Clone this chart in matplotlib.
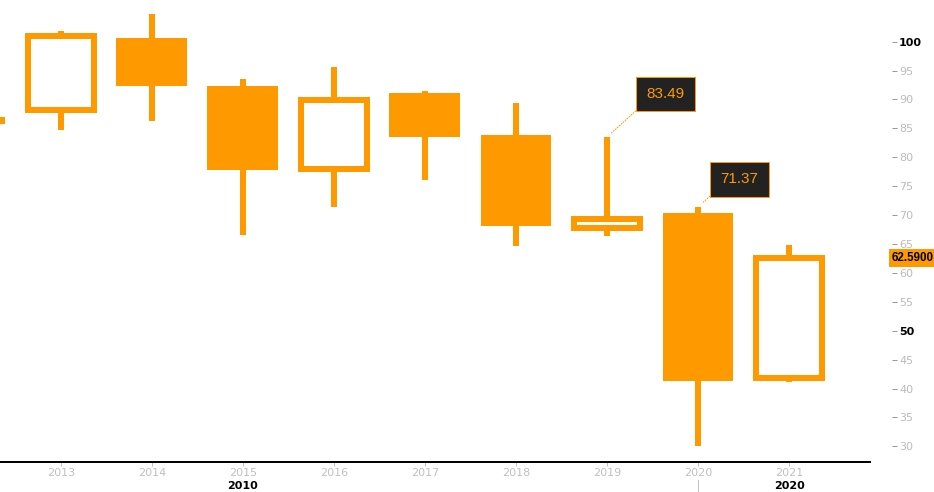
import matplotlib
matplotlib.use("Agg")
import matplotlib.pyplot as plt
import matplotlib.transforms as mtransforms
from matplotlib.lines import Line2D

# ---- data ----
years = [2012, 2013, 2014, 2015, 2016, 2017, 2018, 2019, 2020, 2021]
opens = [87.0, 88.2, 100.7, 92.3, 78.0, 91.1, 83.9, 67.8, 70.4, 41.8]
highs = [87.0, 101.85, 104.8, 93.5, 95.6, 91.5, 89.4, 83.49, 71.37, 64.8]
lows = [85.8, 84.7, 86.2, 66.6, 71.4, 76.1, 64.7, 66.3, 30.0, 41.2]
closes = [85.8, 101.0, 92.3, 77.8, 89.9, 83.5, 68.1, 69.3, 41.3, 62.59]
xtick_years = [2013, 2014, 2015, 2016, 2017, 2018, 2019, 2020, 2021]
yticks = list(range(30, 101, 5))
bold_yticks = [50, 100]
decade_labels = [("2010", 2015), ("2020", 2021)]
annotations = [(2019, 83.49), (2020, 71.37)]
last_price = 62.59

ORANGE = "#ff9900"
GRAY = "#c0c0c0"
DPI = 100
px = 72.0 / DPI  # points per pixel

fig = plt.figure(figsize=(9.34, 4.92), dpi=DPI)
ax = fig.add_axes([0, 30 / 492, 870 / 934, 462 / 492])
ax.set_facecolor("white")

for x, o, h, l, c in zip(years, opens, highs, lows, closes):
    ax.vlines(x, l, h, color=ORANGE, lw=6 * px, zorder=2)
    if c >= o:
        ax.bar(x, c - o, bottom=o, width=0.715, facecolor="white",
               edgecolor=ORANGE, linewidth=6 * px, zorder=3)
    else:
        ax.bar(x, o - c, bottom=c, width=0.78, facecolor=ORANGE,
               edgecolor="none", zorder=3)

ax.set_xlim(2012.33, 2021.89)
ax.set_ylim(27.3, 107.2)

# spines
for s in ["left", "top"]:
    ax.spines[s].set_visible(False)
ax.spines["right"].set_visible(False)
ax.spines["bottom"].set_color("black")
ax.spines["bottom"].set_linewidth(2 * px)

# x axis
ax.set_xticks(xtick_years)
ax.set_xticklabels([str(y) for y in xtick_years])
ax.tick_params(axis="x", colors=GRAY, labelcolor=GRAY, labelsize=8,
               length=4 * px, width=1 * px, pad=1.5, direction="out")

# y axis on right
ax.yaxis.tick_right()
ax.spines["right"].set_position(("outward", 22 * px))
ax.set_yticks(yticks)
ax.set_yticklabels([str(v) for v in yticks])
ax.tick_params(axis="y", colors="#999999", labelcolor="#bbbbbb", labelsize=8,
               length=5 * px, width=1 * px, pad=2 * px, direction="out")
for t, v in zip(ax.yaxis.get_major_ticks(), yticks):
    if v in bold_yticks:
        t.label2.set_color("black")
        t.label2.set_fontweight("bold")
        t.tick2line.set_color("black")

# decade labels
for lbl, xv in decade_labels:
    ax.annotate(lbl, xy=(xv, 0), xycoords=("data", "axes fraction"),
                xytext=(0, -24), textcoords="offset pixels",
                ha="center", va="center", fontsize=8, fontweight="bold",
                color="black", annotation_clip=False)

# small separator line at 2020
trans = mtransforms.blended_transform_factory(ax.transData, fig.transFigure)
fig.add_artist(Line2D([2020, 2020], [0, 12 / 492], transform=trans,
                      color=GRAY, lw=1 * px))

# value callouts
offsets = [(58.5, 43), (41.5, 28)]
for (xv, yv), (dx, dy) in zip(annotations, offsets):
    ax.annotate(f"{yv:.2f}", xy=(xv, yv), xytext=(dx, dy),
                textcoords="offset pixels", ha="center", va="center",
                fontsize=11, family="Liberation Sans", color=ORANGE,
                bbox=dict(boxstyle="square,pad=0.68", fc="#222222",
                          ec=ORANGE, lw=1 * px),
                arrowprops=dict(arrowstyle="-", color=ORANGE, lw=1 * px,
                                ls=":", shrinkA=0, shrinkB=4,
                                relpos=(0, 0)),
                zorder=5, annotation_clip=False)

# last price label
ax.annotate(f"{last_price:.4f}", xy=(1, last_price),
            xycoords=("axes fraction", "data"),
            xytext=(22, 0), textcoords="offset pixels",
            ha="left", va="center", fontsize=8.3, fontweight="bold",
            family="Liberation Sans", color="black",
            bbox=dict(boxstyle="square,pad=0.25", fc=ORANGE, ec="none"),
            annotation_clip=False, zorder=6)

fig.savefig("out.png", dpi=DPI, facecolor="white")
